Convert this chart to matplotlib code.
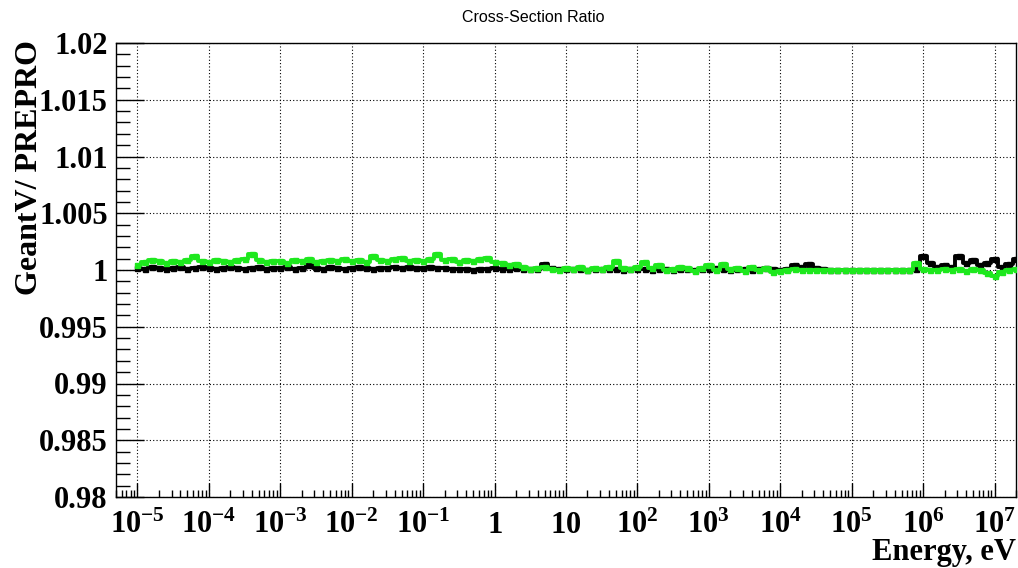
#!/usr/bin/env python3
"""Cross-section ratio GeantV / PREPRO versus energy (ROOT-style plot)."""
import matplotlib
matplotlib.use("Agg")
import matplotlib.pyplot as plt
import matplotlib.ticker as mticker

# log10(energy / eV) of each point
log_energy = [
    -5.0, -4.9, -4.8, -4.7, -4.6, -4.5, -4.4, -4.3, -4.2, -4.1,
    -4.0, -3.9, -3.8, -3.7, -3.6, -3.5, -3.4, -3.3, -3.2, -3.1,
    -3.0, -2.9, -2.8, -2.7, -2.6, -2.5, -2.4, -2.3, -2.2, -2.1,
    -2.0, -1.9, -1.8, -1.7, -1.6, -1.5, -1.4, -1.3, -1.2, -1.1,
    -1.0, -0.9, -0.8, -0.7, -0.6, -0.5, -0.4, -0.3, -0.2, -0.1,
    0.0, 0.1, 0.2, 0.3, 0.4, 0.5, 0.6, 0.7, 0.8, 0.9,
    1.0, 1.1, 1.2, 1.3, 1.4, 1.5, 1.6, 1.7, 1.8, 1.9,
    2.0, 2.1, 2.2, 2.3, 2.4, 2.5, 2.6, 2.7, 2.8, 2.9,
    3.0, 3.1, 3.2, 3.3, 3.4, 3.5, 3.6, 3.7, 3.8, 3.9,
    4.0, 4.1, 4.2, 4.3, 4.4, 4.5, 4.6, 4.7, 4.8, 4.9,
    5.0, 5.1, 5.2, 5.3, 5.4, 5.5, 5.6, 5.7, 5.8, 5.9,
    6.0, 6.1, 6.2, 6.3, 6.4, 6.5, 6.6, 6.7, 6.8, 6.9,
    7.0, 7.1, 7.2, 7.3,
]

# ratio - 1, in units of 1e-4 (black series)
black_dev_e4 = [
    2, 1, 3, 2, 1, 2, 3, 1, 2, 3,
    2, 1, 2, 3, 2, 1, 2, 3, 1, 2,
    2, 3, 1, 2, 4, 2, 1, 3, 2, 1,
    2, 3, 2, 1, 2, 2, 3, 2, 3, 2,
    2, 3, 2, 2, 1, 1, 1, 0, 1, 1,
    2, 1, 1, 2, 1, 1, 1, 5, 2, 1,
    1, 1, 1, 0, 1, 1, 1, 1, 0, 1,
    1, 1, 0, 1, 1, 0, 1, 1, 0, 1,
    1, 2, 1, 0, 1, 1, 0, 1, 2, 1,
    0, 1, 4, 3, 5, 2, 1, 0, 0, 0,
    0, 0, 0, 0, 0, 0, 0, 0, 0, 1,
    12, 6, 3, 4, 3, 12, 6, 9, 4, 6,
    10, 3, 5, 10,
]

# ratio - 1, in units of 1e-4 (green series)
green_dev_e4 = [
    4, 7, 9, 8, 6, 8, 7, 9, 12, 8,
    7, 9, 8, 7, 9, 10, 14, 9, 7, 8,
    8, 6, 9, 8, 10, 7, 8, 9, 8, 10,
    8, 9, 7, 12, 9, 8, 10, 11, 8, 9,
    8, 10, 14, 9, 10, 7, 9, 8, 10, 11,
    7, 6, 4, 5, 3, 1, 2, 3, 1, 0,
    2, 1, 3, 0, 2, 1, 3, 8, 2, 1,
    3, 7, 2, 4, 0, 1, 3, 2, -1, 2,
    4, 0, 5, 1, 2, -1, 3, 0, 2, -2,
    -1, 0, 1, 0, 0, 0, 0, 0, 0, 0,
    0, 0, 0, 0, 0, 0, 0, 0, 0, 6,
    1, 0, 0, 1, 0, 1, -1, 1, 0, -3,
    -5, -2, 0, 1,
]

x_tick_values = [1e-5, 1e-4, 1e-3, 1e-2, 1e-1, 1, 10, 1e2, 1e3, 1e4, 1e5, 1e6, 1e7]
x_tick_labels = [r"$10^{-5}$", r"$10^{-4}$", r"$10^{-3}$", r"$10^{-2}$", r"$10^{-1}$",
                 r"$1$", r"$10$", r"$10^{2}$", r"$10^{3}$", r"$10^{4}$",
                 r"$10^{5}$", r"$10^{6}$", r"$10^{7}$"]

plt.rcParams["mathtext.fontset"] = "custom"
plt.rcParams["mathtext.rm"] = "Liberation Serif:bold"
plt.rcParams["mathtext.it"] = "Liberation Serif:bold"
plt.rcParams["mathtext.bf"] = "Liberation Serif:bold"
plt.rcParams["mathtext.default"] = "rm"

energy = [10 ** v for v in log_energy]
black = [1 + d * 1e-4 for d in black_dev_e4]
green = [1 + d * 1e-4 for d in green_dev_e4]

fig = plt.figure(figsize=(10.18, 5.68), dpi=100)
ax = fig.add_axes([116 / 1018, 1 - 497 / 568, 900 / 1018, 454 / 568])

ax.plot(energy, black, color="black", lw=2.8, drawstyle="steps-mid",
        marker="s", ms=3.6, zorder=3)
ax.plot(energy, green, color="#1ee81e", lw=2.8, drawstyle="steps-mid",
        marker="s", ms=3.6, zorder=4)

ax.set_xscale("log")
ax.set_xlim(5e-6, 2e7)
ax.set_ylim(0.98, 1.02)

ax.xaxis.set_major_locator(mticker.FixedLocator(x_tick_values))
ax.xaxis.set_minor_locator(mticker.LogLocator(base=10, subs=range(2, 10), numticks=50))
ax.xaxis.set_minor_formatter(mticker.NullFormatter())
ax.set_xticklabels(x_tick_labels)
ax.yaxis.set_major_locator(mticker.MultipleLocator(0.005))
ax.yaxis.set_minor_locator(mticker.MultipleLocator(0.001))
ax.yaxis.set_major_formatter(mticker.FuncFormatter(lambda v, _: f"{v:g}"))

ax.grid(True, which="major", color="black", ls=(0, (1, 2)), lw=0.8)
ax.tick_params(axis="x", which="major", direction="in", length=10, width=1, pad=26,
               labelsize=22)
ax.tick_params(axis="x", which="minor", direction="in", length=5, width=1)
ax.tick_params(axis="y", which="major", direction="in", length=20, width=1, pad=6,
               labelsize=22)
ax.tick_params(axis="y", which="minor", direction="in", length=10, width=1)
for lab in ax.get_xticklabels():
    lab.set_va("baseline")
for lab in ax.get_yticklabels():
    lab.set_fontfamily("Liberation Serif")
    lab.set_fontweight("bold")
for sp in ax.spines.values():
    sp.set_linewidth(1)

fig.text(533 / 1018, 1 - 18 / 568, "Cross-Section Ratio", ha="center", va="center",
         fontsize=11.5, family="Liberation Sans")
fig.text(1016 / 1018, 1 - 560 / 568, "Energy, eV", ha="right", va="baseline",
         fontsize=22, family="Liberation Serif", fontweight="bold")
fig.text(30 / 1018, 1 - 40 / 568, "GeantV/ PREPRO", ha="center", va="top", rotation=90,
         fontsize=23, family="Liberation Serif", fontweight="bold")

fig.savefig("out.png", dpi=100)
